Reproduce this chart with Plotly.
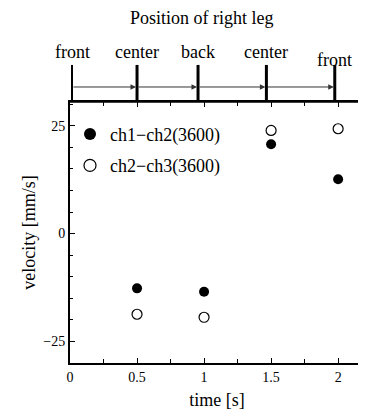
import plotly.graph_objects as go

time_s = [0.5, 1.0, 1.5, 2.0]
ch1_ch2 = [-12.7, -13.5, 20.7, 12.6]
ch2_ch3 = [-18.7, -19.4, 23.9, 24.3]
series_names = ["ch1\u2212ch2(3600)", "ch2\u2212ch3(3600)"]

leg_times = [0.015, 0.5, 0.955, 1.465, 1.975]
leg_labels = ["front", "center", "back", "center", "front"]

FONT = "Liberation Serif"

fig = go.Figure()
# data traces
fig.add_trace(go.Scatter(x=time_s, y=ch1_ch2, mode="markers", showlegend=False,
                         marker=dict(symbol="circle", size=10, color="black",
                                     line=dict(width=0))))
fig.add_trace(go.Scatter(x=time_s, y=ch2_ch3, mode="markers", showlegend=False,
                         marker=dict(symbol="circle-open", size=10, color="black",
                                     line=dict(width=1.2))))
# legend entries (larger symbols as in the reference)
fig.add_trace(go.Scatter(x=[None], y=[None], mode="markers", name=series_names[0],
                         legendgroup="a",
                         marker=dict(symbol="circle", size=12, color="black")))
fig.add_trace(go.Scatter(x=[None], y=[None], mode="markers", name=series_names[1],
                         legendgroup="b",
                         marker=dict(symbol="circle-open", size=12, color="black",
                                     line=dict(width=1.2))))

shapes = []
# top frame line
shapes.append(dict(type="line", xref="paper", yref="paper", x0=0, x1=1, y0=1, y1=1,
                   line=dict(color="black", width=1.5)))
for i, t in enumerate(leg_times):
    shapes.append(dict(type="line", xref="x", yref="paper", x0=t, x1=t,
                       y0=1.0, y1=1.142,
                       line=dict(color="black", width=2 if i == 0 else 3)))

annotations = []
for i in range(len(leg_times) - 1):
    annotations.append(dict(x=leg_times[i + 1], y=1.0575, xref="x", yref="paper",
                            ax=leg_times[i], ay=0, axref="x", ayref="pixel",
                            showarrow=True, arrowhead=2, arrowsize=1.1,
                            arrowwidth=1, arrowcolor="#333333", standoff=1, text=""))
for i, (t, lab) in enumerate(zip(leg_times, leg_labels)):
    annotations.append(dict(x=t, y=1.16 if i == len(leg_times) - 1 else 1.19,
                            xref="x", yref="paper", yanchor="middle",
                            text=lab, showarrow=False,
                            font=dict(family=FONT, size=18, color="black")))
annotations.append(dict(x=0.449, y=1.322, xref="paper", yref="paper", yanchor="middle",
                        text="Position of right leg", showarrow=False,
                        font=dict(family=FONT, size=18, color="black")))

# page body has an 8px margin, so the figure is 8px smaller and margins shifted
fig.update_layout(
    width=358, height=402,
    margin=dict(l=62, r=0, t=94, b=47),
    paper_bgcolor="white", plot_bgcolor="white",
    font=dict(family=FONT, size=14, color="black"),
    shapes=shapes, annotations=annotations,
    legend=dict(x=0.0, y=0.947, xanchor="left", yanchor="top",
                bgcolor="rgba(0,0,0,0)", font=dict(family=FONT, size=18),
                traceorder="grouped", tracegroupgap=5),
    xaxis=dict(range=[0, 2.193], dtick=0.5, tick0=0, showgrid=False, zeroline=False,
               showline=True, linecolor="black", linewidth=2, mirror="ticks",
               ticks="inside", ticklen=5, tickcolor="black",
               minor=dict(dtick=0.25, ticks="inside", ticklen=4, tickcolor="black"),
               title=dict(text="time [s]", font=dict(size=18), standoff=13)),
    yaxis=dict(range=[-30, 30.5], dtick=25, tick0=0, showgrid=False, zeroline=False,
               showline=True, linecolor="black", linewidth=2, mirror="ticks",
               ticks="inside", ticklen=5, tickcolor="black",
               minor=dict(dtick=5, ticks="inside", ticklen=3, tickcolor="black"),
               title=dict(text="velocity [mm/s]", font=dict(size=18), standoff=3)),
)

fig.write_html("out.html")
